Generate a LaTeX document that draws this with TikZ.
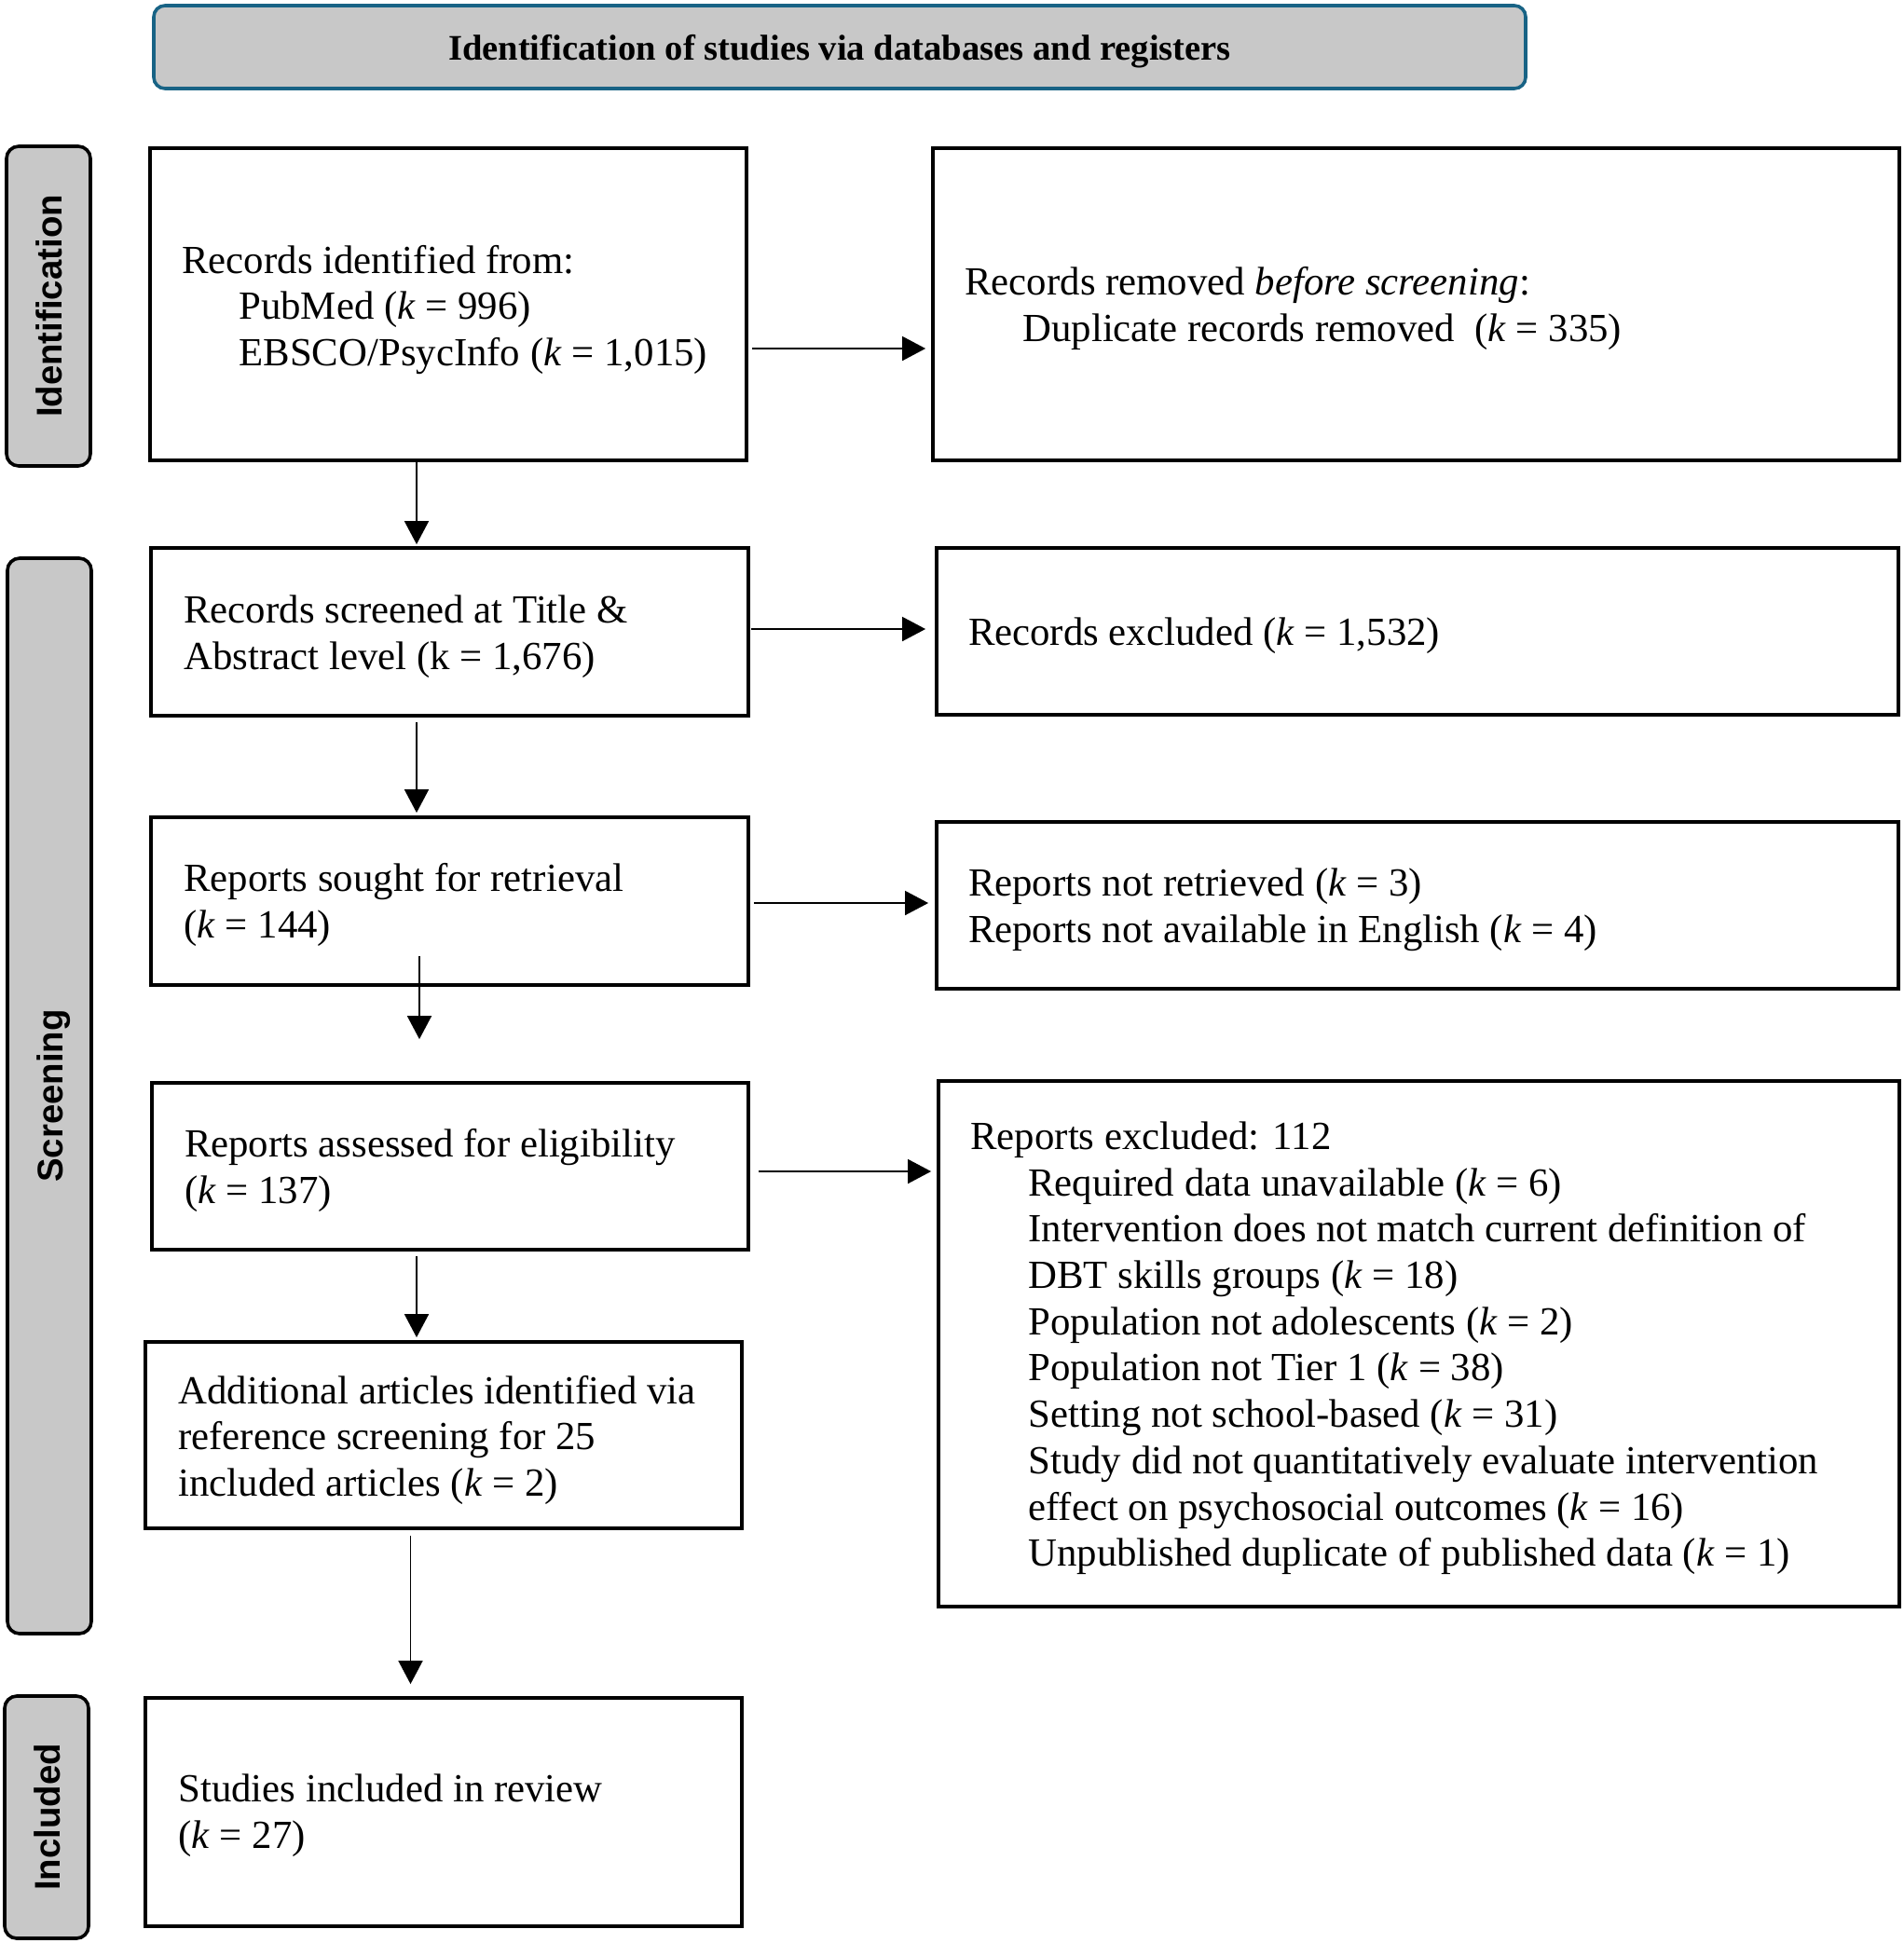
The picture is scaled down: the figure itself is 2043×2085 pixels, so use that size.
\documentclass[tikz,border=0pt]{standalone}
\usepackage{fontspec}
\setmainfont{Liberation Serif}
\newfontfamily\sidefont{Liberation Sans}
\usetikzlibrary{arrows.meta}
\definecolor{headblue}{RGB}{24,99,133}
\definecolor{boxgray}{RGB}{200,200,200}
\tikzset{
  flowbox/.style={draw=black, line width=1.9pt, fill=white, inner sep=0pt},
  sidebox/.style={draw=black, line width=1.8pt, fill=boxgray, rounded corners=6.5pt,
    inner sep=0pt, rotate=90, font=\sidefont\bfseries\fontsize{19.2}{22}\selectfont,
    text height=14pt, text depth=0pt},
  bodytext/.style={anchor=base west, inner sep=0pt, align=left,
    font=\fontsize{21.4}{24.85}\selectfont},
  arr/.style={line width=0.9pt, -{Triangle[length=12.5pt,width=13pt]}}
}
\begin{document}
\begin{tikzpicture}[x=0.5pt,y=-0.5pt]
\useasboundingbox (0,0) rectangle (2043,2085);

% header
\node[draw=headblue, line width=1.8pt, fill=boxgray, rounded corners=6pt,
  minimum width=736pt, minimum height=44.5pt, inner sep=0pt] (head) at (901,50.5) {};
\node[anchor=base, inner sep=0pt, font=\bfseries\fontsize{19.3}{22}\selectfont] (headtxt)
  at (901,64.5) {Identification of studies via databases and registers};

% side labels
\node[sidebox, minimum width=171.5pt, minimum height=45pt] (sideid) at (52,328.5) {Identification};
\node[sidebox, minimum width=577pt, minimum height=45pt] (sidescr) at (53,1176) {Screening};
\node[sidebox, minimum width=130pt, minimum height=45pt] (sideinc) at (50,1950) {Included};

% left column boxes
\node[flowbox, minimum width=320pt, minimum height=167.5pt] (b1) at (481,326.5) {};
\node[flowbox, minimum width=320.5pt, minimum height=90pt] (b2) at (482.5,678) {};
\node[flowbox, minimum width=320.5pt, minimum height=90pt] (b3) at (482.5,967) {};
\node[flowbox, minimum width=320pt, minimum height=89.5pt] (b4) at (483,1251.5) {};
\node[flowbox, minimum width=320pt, minimum height=100pt] (b5) at (476,1540) {};
\node[flowbox, minimum width=320pt, minimum height=122.5pt] (b6) at (476,1944.5) {};

% right column boxes
\node[flowbox, minimum width=518.5pt, minimum height=167.5pt] (r1) at (1519.5,326.5) {};
\node[flowbox, minimum width=516pt, minimum height=89.5pt] (r2) at (1521,677.5) {};
\node[flowbox, minimum width=516pt, minimum height=89.5pt] (r3) at (1521,971.5) {};
\node[flowbox, minimum width=515.5pt, minimum height=282pt] (r4) at (1522.5,1442) {};

% texts (anchored at the baseline of the last line)
\node[bodytext] (t1) at (195,392.5) {Records identified from:\\
  \hspace*{30.5pt}PubMed (\textit{k} = 996)\\
  \hspace*{30.5pt}EBSCO/PsycInfo (\textit{k} = 1,015)};
\node[bodytext] (tr1) at (1035,366) {Records removed \textit{before screening}:\\
  \hspace*{31pt}Duplicate records removed~ (\textit{k} = 335)};
\node[bodytext] (t2) at (197,718.5) {Records screened at Title \&\\
  Abstract level (k = 1,676)};
\node[bodytext] (tr2) at (1038.6,692) {Records excluded (\textit{k} = 1,532)};
\node[bodytext] (t3) at (197,1006) {Reports sought for retrieval\\
  (\textit{k} = 144)};
\node[bodytext] (tr3) at (1038.6,1011) {Reports not retrieved (\textit{k} = 3)\\
  Reports not available in English (\textit{k} = 4)};
\node[bodytext] (t4) at (197.6,1291.5) {Reports assessed for eligibility\\
  (\textit{k} = 137)};
\node[bodytext] (tr4) at (1041,1680.7) {Reports excluded: 112\\
  \hspace*{31pt}Required data unavailable (\textit{k} = 6)\\
  \hspace*{31pt}Intervention does not match current definition of\\
  \hspace*{31pt}DBT skills groups (\textit{k} = 18)\\
  \hspace*{31pt}Population not adolescents (\textit{k} = 2)\\
  \hspace*{31pt}Population not Tier 1 (\textit{k} = 38)\\
  \hspace*{31pt}Setting not school-based (\textit{k} = 31)\\
  \hspace*{31pt}Study did not quantitatively evaluate intervention\\
  \hspace*{31pt}effect on psychosocial outcomes (\textit{k} = 16)\\
  \hspace*{31pt}Unpublished duplicate of published data (\textit{k} = 1)};
\node[bodytext] (t5) at (191,1605.5) {Additional articles identified via\\
  reference screening for 25\\
  included articles (\textit{k} = 2)};
\node[bodytext] (t6) at (191,1983.5) {Studies included in review\\
  (\textit{k} = 27)};

% horizontal connectors
\draw[arr] ([shift={(4,47.5)}]b1.east) -- ([shift={(-6,47.5)}]r1.west);
\draw[arr] ([shift={(1,-3)}]b2.east) -- ([shift={(-10,-2.5)}]r2.west);
\draw[arr] ([shift={(4,2)}]b3.east) -- ([shift={(-7,-2.5)}]r3.west);
\draw[arr] ([shift={(9,5.5)}]b4.east) -- ([shift={(-6,-185)}]r4.west);

% vertical connectors
\draw[arr] ([shift={(-34,0)}]b1.south) -- ([shift={(-35.5,-2)}]b2.north);
\draw[arr] ([shift={(-35.5,5)}]b2.south) -- ([shift={(-35.5,-3)}]b3.north);
\draw[arr] ([shift={(-32.5,-32.5)}]b3.south) -- ([shift={(-33,-45)}]b4.north);
\draw[arr] ([shift={(-36,5)}]b4.south) -- ([shift={(-29,-3)}]b5.north);
\draw[arr] ([shift={(-35.5,6)}]b5.south) -- ([shift={(-35.5,-13)}]b6.north);
\end{tikzpicture}
\end{document}
